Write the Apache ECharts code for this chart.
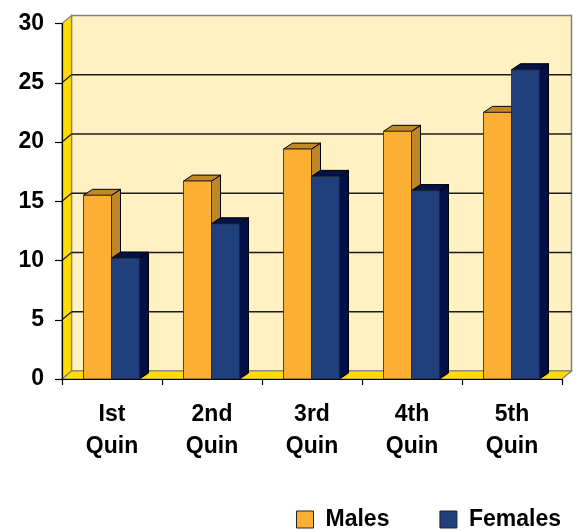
<!DOCTYPE html>
<html>
<head>
<meta charset="utf-8">
<script src="https://cdn.jsdelivr.net/npm/echarts@6/dist/echarts.min.js"></script>
<style>
html,body{margin:0;padding:0;background:#fff;}
#c{width:576px;height:531px;}
</style>
</head>
<body>
<div id="c"></div>
<script>
var categories = ['Ist\nQuin', '2nd\nQuin', '3rd\nQuin', '4th\nQuin', '5th\nQuin'];
var males = [15.5, 16.7, 19.4, 20.9, 22.5];
var females = [10.2, 13.1, 17.1, 15.9, 26.1];
var yTicks = [0, 5, 10, 15, 20, 25, 30];

var FONT = '"Liberation Sans", Arial, sans-serif';
var WALL_D = [9.5, -8];
var BAR_D = [9, -6];
var BAR_W = 28;

var colors = {
  males: { front: '#FBB034', top: '#C0882A', side: '#BD8628' },
  females: { front: '#213F7A', top: '#031248', side: '#021045' }
};

function wallRender(params, api) {
  var dx = WALL_D[0], dy = WALL_D[1];
  var a = api.coord([0, 0]);
  var b = api.coord([5, 0]);
  var c = api.coord([0, 30]);
  var d = api.coord([5, 30]);
  var children = [];
  children.push({
    type: 'polygon',
    shape: { points: [[c[0] + dx, c[1] + dy], [d[0] + dx, d[1] + dy], [b[0] + dx, b[1] + dy], [a[0] + dx, a[1] + dy]] },
    style: { fill: '#FFF1C1', stroke: '#808080', lineWidth: 1.5 }
  });
  children.push({
    type: 'polygon',
    shape: { points: [[a[0], a[1]], [c[0], c[1]], [c[0] + dx, c[1] + dy], [a[0] + dx, a[1] + dy]] },
    style: { fill: '#FFDD00', stroke: '#808080', lineWidth: 1.2 }
  });
  children.push({
    type: 'polygon',
    shape: { points: [[a[0], a[1]], [a[0] + dx, a[1] + dy], [b[0] + dx, b[1] + dy], [b[0], b[1]]] },
    style: { fill: '#FFDD00', stroke: '#808080', lineWidth: 1.2 }
  });
  yTicks.forEach(function (v) {
    if (v === 0 || v === 30) return;
    var p = api.coord([0, v]);
    var q = api.coord([5, v]);
    children.push({
      type: 'line',
      shape: { x1: p[0] + dx, y1: p[1] + dy, x2: q[0] + dx, y2: q[1] + dy },
      style: { stroke: '#1a1a1a', lineWidth: 1.3 }
    });
    children.push({
      type: 'line',
      shape: { x1: p[0], y1: p[1], x2: p[0] + dx, y2: p[1] + dy },
      style: { stroke: '#1a1a1a', lineWidth: 1.2 }
    });
  });
  return { type: 'group', children: children };
}

function barRender(side, col) {
  return function (params, api) {
    var ci = api.value(0), v = api.value(1);
    var base = api.coord([ci, 0]);
    var top = api.coord([ci, v]);
    var cx = base[0] - 0.5;
    var x0 = side === 0 ? cx - BAR_W : cx;
    var x1 = x0 + BAR_W;
    var yb = base[1], yt = top[1];
    var dx = BAR_D[0], dy = BAR_D[1];
    return {
      type: 'group',
      children: [
        {
          type: 'polygon',
          shape: { points: [[x1, yt], [x1 + dx, yt + dy], [x1 + dx, yb + dy], [x1, yb]] },
          style: { fill: col.side, stroke: '#000', lineWidth: 1 }
        },
        {
          type: 'polygon',
          shape: { points: [[x0, yt], [x0 + dx, yt + dy], [x1 + dx, yt + dy], [x1, yt]] },
          style: { fill: col.top, stroke: '#000', lineWidth: 1 }
        },
        {
          type: 'rect',
          shape: { x: x0, y: yt, width: BAR_W, height: yb - yt },
          style: { fill: col.front, stroke: '#222', lineWidth: 0.8 }
        }
      ]
    };
  };
}

var chart = echarts.init(document.getElementById('c'), null, { renderer: 'canvas' });
chart.setOption({
  animation: false,
  backgroundColor: '#fff',
  textStyle: { fontFamily: FONT },
  grid: { left: 62, right: 14, top: 23.5, bottom: 152, containLabel: false },
  legend: {
    left: 296, top: 508, padding: 0,
    itemWidth: 17, itemHeight: 17, itemGap: 50,
    icon: 'rect',
    textStyle: { fontFamily: FONT, fontWeight: 'bold', fontSize: 23, color: '#000', padding: [3, 0, 0, 7] },
    data: [
      { name: 'Males', itemStyle: { color: colors.males.front, borderColor: '#222', borderWidth: 1 } },
      { name: 'Females', itemStyle: { color: colors.females.front, borderColor: '#222', borderWidth: 1 } }
    ]
  },
  xAxis: [
    {
      type: 'category', data: categories, boundaryGap: true, z: 10,
      axisLine: { show: true, lineStyle: { color: '#000', width: 1.2 } },
      axisTick: { show: true, length: 6, alignWithLabel: false, lineStyle: { color: '#000', width: 1.2 } },
      axisLabel: { margin: 20, fontFamily: FONT, fontWeight: 'bold', fontSize: 23, color: '#000', lineHeight: 32 },
      splitLine: { show: false }
    },
    { type: 'value', min: 0, max: 5, show: false }
  ],
  yAxis: {
    type: 'value', min: 0, max: 30, interval: 5, z: 10,
    axisLine: { show: true, lineStyle: { color: '#000', width: 1.2 } },
    axisTick: { show: true, length: 7, lineStyle: { color: '#000', width: 1.2 } },
    axisLabel: { margin: 18, fontFamily: FONT, fontWeight: 'bold', fontSize: 23, color: '#000' },
    splitLine: { show: false }
  },
  series: [
    {
      type: 'custom', name: 'walls', xAxisIndex: 1, yAxisIndex: 0, z: 1, silent: true,
      renderItem: wallRender, data: [[0, 0]]
    },
    {
      type: 'custom', name: 'Males', xAxisIndex: 0, yAxisIndex: 0, z: 3,
      itemStyle: { color: colors.males.front },
      renderItem: barRender(0, colors.males),
      data: males.map(function (v, i) { return [i, v]; })
    },
    {
      type: 'custom', name: 'Females', xAxisIndex: 0, yAxisIndex: 0, z: 4,
      itemStyle: { color: colors.females.front },
      renderItem: barRender(1, colors.females),
      data: females.map(function (v, i) { return [i, v]; })
    }
  ]
});
</script>
</body>
</html>
